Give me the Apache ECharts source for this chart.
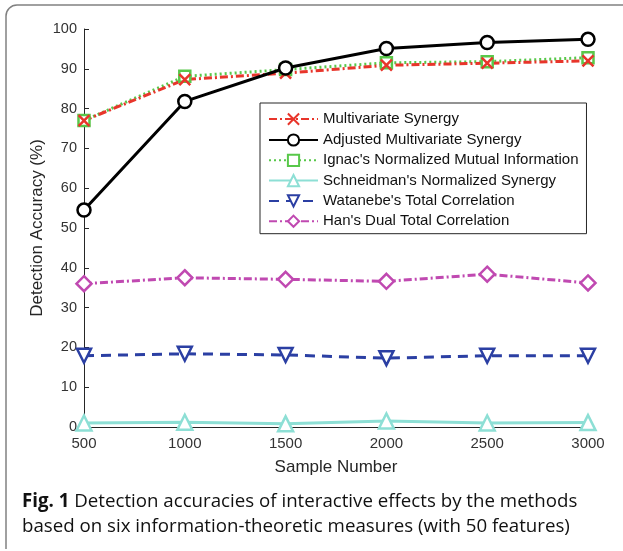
<!DOCTYPE html>
<html>
<head>
<meta charset="utf-8">
<script src="https://cdn.jsdelivr.net/npm/echarts@6/dist/echarts.min.js"></script>
<style>
html,body{margin:0;padding:0;background:#fff;}
#chart{width:623px;height:551px;}
</style>
</head>
<body>
<div id="chart"></div>
<script>
const sampleNumbers = [500, 1000, 1500, 2000, 2500, 3000];
const multivariateSynergy = [77.0, 87.3, 88.9, 90.9, 91.4, 92.0];
const adjustedMultivariateSynergy = [54.5, 81.8, 90.2, 95.1, 96.6, 97.4];
const ignacNMI = [77.0, 88.1, 89.8, 91.5, 91.8, 92.8];
const schneidmanNS = [1.0, 1.2, 0.8, 1.5, 1.0, 1.1];
const watanabeTC = [17.9, 18.4, 18.1, 17.3, 17.9, 17.9];
const hanDTC = [36.0, 37.5, 37.1, 36.6, 38.4, 36.2];
const seriesNames = [
  "Multivariate Synergy",
  "Adjusted Multivariate Synergy",
  "Ignac's Normalized Mutual Information",
  "Schneidman's Normalized Synergy",
  "Watanebe's Total Correlation",
  "Han's Dual Total Correlation"
];
const captionBold = "Fig. 1";
const captionLine1 = " Detection accuracies of interactive effects by the methods";
const captionLine2 = "based on six information-theoretic measures (with 50 features)";

const pairs = arr => sampleNumbers.map((x, i) => [x, arr[i]]);
const FONT = "Liberation Sans";

function mk(name, data, color, lineType, symbol, symbolSize, fill) {
  return {
    name: name,
    type: 'line',
    data: pairs(data),
    symbol: symbol,
    symbolSize: symbolSize,
    showAllSymbol: true,
    lineStyle: {color: color, width: 3, type: lineType},
    itemStyle: {color: fill || '#ffffff', borderColor: color, borderWidth: 2.5},
    emphasis: {disabled: true},
    animation: false
  };
}

const chart = echarts.init(document.getElementById('chart'), null, {renderer: 'canvas'});
const option = {
  animation: false,
  grid: {left: 84, right: 35, top: 29, bottom: 124, containLabel: false},
  xAxis: {
    type: 'value', min: 500, max: 3000, interval: 500,
    name: 'Sample Number', nameLocation: 'middle', nameGap: 32, nameMoveOverlap: false,
    nameTextStyle: {fontFamily: FONT, fontSize: 17, color: '#262626'},
    axisLine: {show: true, lineStyle: {color: '#262626', width: 1}},
    axisTick: {show: true, inside: true, length: 5, lineStyle: {color: '#262626'}},
    axisLabel: {fontFamily: FONT, fontSize: 15, color: '#333', margin: 9, formatter: v => String(v)},
    splitLine: {show: false}
  },
  yAxis: {
    type: 'value', min: 0, max: 100, interval: 10,
    name: 'Detection Accuracy (%)', nameLocation: 'middle', nameGap: 38, nameMoveOverlap: false,
    nameTextStyle: {fontFamily: FONT, fontSize: 17, color: '#262626'},
    axisLine: {show: true, lineStyle: {color: '#262626', width: 1}},
    axisTick: {show: true, inside: true, length: 5, lineStyle: {color: '#262626'}},
    axisLabel: {fontFamily: FONT, fontSize: 14.5, color: '#333', margin: 7},
    splitLine: {show: false}
  },
  legend: {
    orient: 'vertical', left: 260, top: 103,
    padding: [8, 8, 5, 8],
    backgroundColor: '#ffffff',
    borderColor: '#262626', borderWidth: 1,
    itemWidth: 49, itemHeight: 14, itemGap: 5.3,
    textStyle: {fontFamily: FONT, fontSize: 15, color: '#111'},
    data: seriesNames
  },
  series: [
    mk(seriesNames[2], ignacNMI, '#58c84a', [2, 3], 'rect', 11),
    mk(seriesNames[0], multivariateSynergy, '#e8352b', [8, 3, 2, 3], 'path://M0,0L10,10M10,0L0,10', 11, 'none'),
    mk(seriesNames[1], adjustedMultivariateSynergy, '#000000', 'solid', 'circle', 13),
    mk(seriesNames[3], schneidmanNS, '#8ddfd5', 'solid', 'triangle', 15),
    mk(seriesNames[4], watanabeTC, '#2b3fa3', [10, 7], 'path://M0,0L10,0L5,9Z', 14),
    mk(seriesNames[5], hanDTC, '#c049b1', [8, 3, 2, 3], 'diamond', 15)
  ],
  graphic: [
    {type: 'line', silent: true, shape: {x1: 6, y1: 549, x2: 6, y2: 16},
      style: {stroke: '#808080', lineWidth: 1.5}},
    {type: 'arc', silent: true, shape: {cx: 17, cy: 16, r: 11, startAngle: Math.PI, endAngle: Math.PI * 1.5, clockwise: true},
      style: {fill: 'none', stroke: '#808080', lineWidth: 1.5}},
    {type: 'line', silent: true, shape: {x1: 17, y1: 5, x2: 623, y2: 5},
      style: {stroke: '#808080', lineWidth: 1.5}},
    {type: 'text', left: 22, top: 492, silent: true,
      style: {
        text: '{b|' + captionBold + '}{n|' + captionLine1 + '}\n{n|' + captionLine2 + '}',
        rich: {
          b: {fontFamily: 'Open Sans', fontWeight: 'bold', fontSize: 18.7, fill: '#111', lineHeight: 25},
          n: {fontFamily: 'Open Sans', fontSize: 18.7, fill: '#111', lineHeight: 25}
        }
      }}
  ]
};
chart.setOption(option);
</script>
</body>
</html>
